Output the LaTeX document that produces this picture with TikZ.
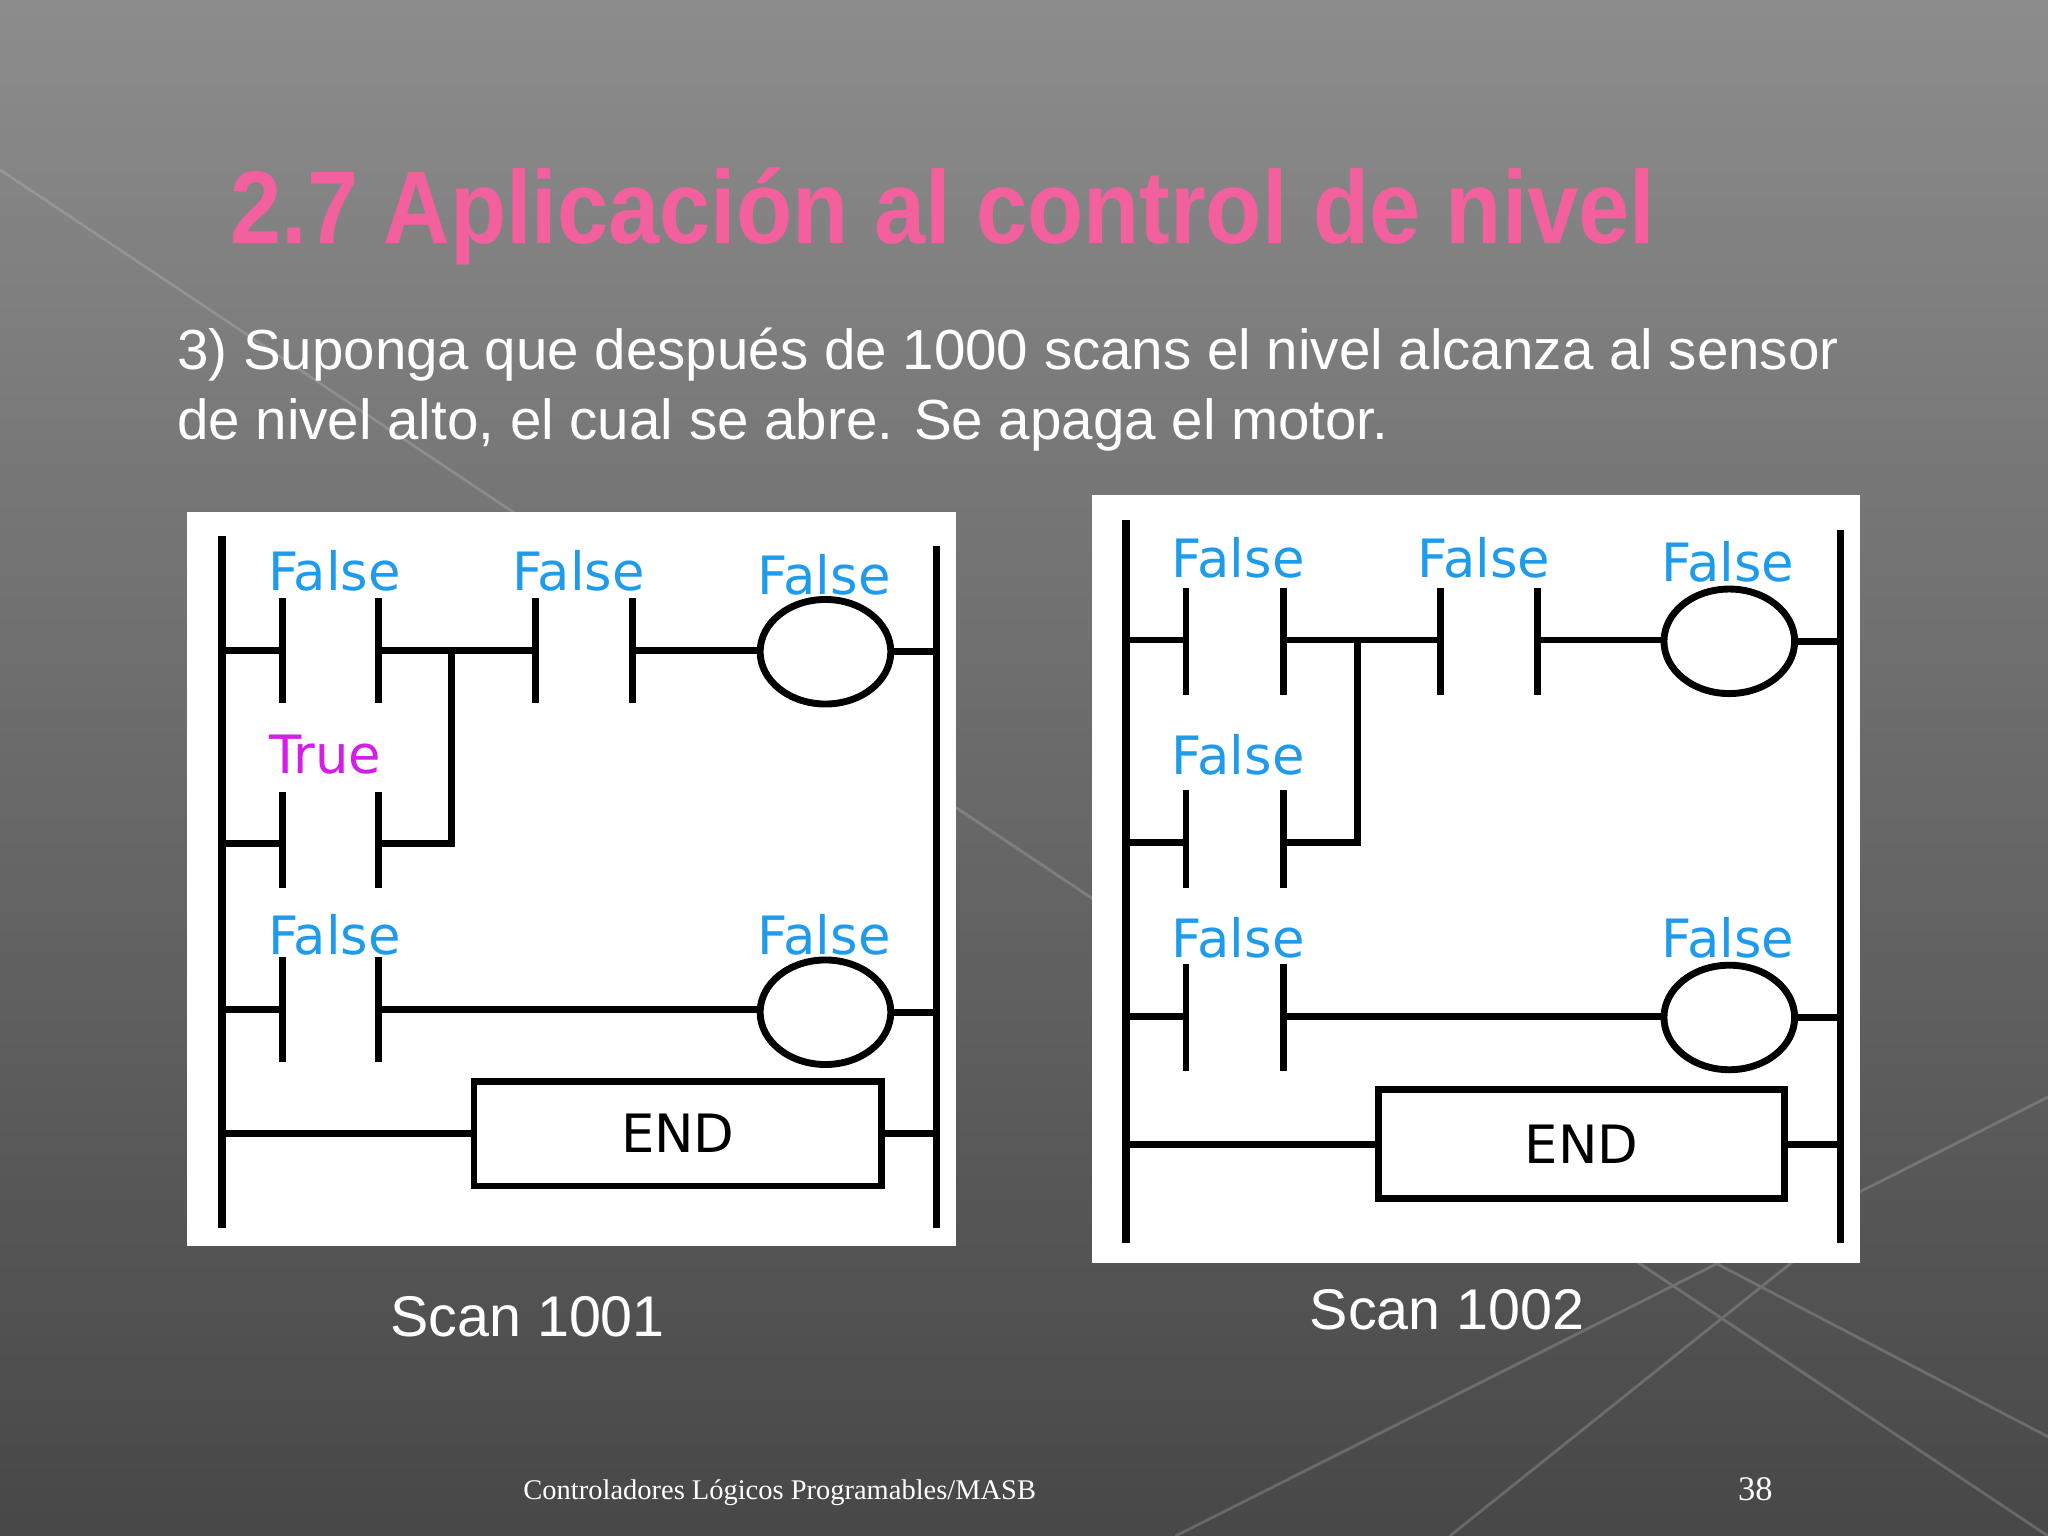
\documentclass[tikz,border=0pt]{standalone}
\usepackage{fontspec}
\usepackage{graphicx}
\usetikzlibrary{shapes.geometric}
\setmainfont{Liberation Sans}
\newfontfamily\serifft{Liberation Serif}
\newfontfamily\plcfont{DejaVu Sans}
\definecolor{plcblue}{HTML}{1E9BEA}
\definecolor{plcmag}{HTML}{D21EE6}
\definecolor{titlepink}{HTML}{F2609E}
\tikzset{
  rail/.style={line width=1.6pt},
  wire/.style={line width=1.5pt},
  coil/.style={draw,ellipse,line width=1.5pt,minimum width=1cm,minimum height=0.8cm,inner sep=0pt},
  lbl/.style={font=\plcfont\fontsize{11.5}{12}\selectfont,text=plcblue},
  endbox/.style={draw,line width=1.5pt,font=\plcfont\fontsize{11.5}{12}\selectfont}
}
\begin{document}
\begin{tikzpicture}[x=0.01cm,y=-0.01cm]
\useasboundingbox (0,0) rectangle (1568,1176);
\shade[top color=black!45,bottom color=black!72] (0,0) rectangle (1568,1176);
\draw[white!60!gray,opacity=0.25,line width=0.6pt] (0,130) -- (1568,1176) (900,1176) -- (1568,840) (1110,1176) -- (1380,960) (1300,960) -- (1568,1100);
% title
\node[anchor=center,inner sep=0pt] (title) at (722,166) {\resizebox{10.9cm}{0.58cm}{\bfseries\color{titlepink}2.7 Aplicación al control de nivel}};
\node[anchor=west,align=left,inner sep=0pt,font=\fontsize{12.3}{15.2}\selectfont,text=white] (body) at (135,298) {3) Suponga que después de 1000 scans el nivel alcanza al sensor\\de nivel alto, el cual se abre. Se apaga el motor.};
% Left panel
\fill[white] (143,392) rectangle (732,954);
\draw[rail] (170,410) -- (170,940);
\draw[rail] (717,418) -- (717,940);
\draw[wire] (170,498) -- (216,498) (216,458) -- (216,538) (290,458) -- (290,538) (290,498) -- (410,498) (410,458) -- (410,538) (484,458) -- (484,538) (484,498) -- (582,498);
\node[coil] (lc1) at (632,499) {};
\draw[wire] (lc1.east) -- (717,499);
\draw[wire] (346,498) -- (346,646) -- (290,646) (216,646) -- (170,646) (216,606) -- (216,680) (290,606) -- (290,680);
\draw[wire] (170,773) -- (216,773) (216,733) -- (216,813) (290,733) -- (290,813) (290,773) -- (582,773);
\node[coil] (lc2) at (632,775) {};
\draw[wire] (lc2.east) -- (717,775);
\node[endbox,minimum width=3.12cm,minimum height=0.8cm] (lend) at (519,868) {END};
\draw[wire] (170,868) -- (lend.west) (lend.east) -- (717,868);
\node[lbl] (l1) at (256,437) {False};
\node[lbl] (l2) at (443,437) {False};
\node[lbl] (l3) at (631,440) {False};
\node[lbl,text=plcmag] (l4) at (249,578) {True};
\node[lbl] (l5) at (256,716) {False};
\node[lbl] (l6) at (631,716) {False};
% Right panel
\fill[white] (836,379) rectangle (1424,967);
\draw[rail] (862,398) -- (862,952);
\draw[rail] (1409,406) -- (1409,952);
\draw[wire] (862,490) -- (908,490) (908,450) -- (908,532) (983,450) -- (983,532) (983,490) -- (1103,490) (1103,450) -- (1103,532) (1177,450) -- (1177,532) (1177,490) -- (1275,490);
\node[coil] (rc1) at (1324,491) {};
\draw[wire] (rc1.east) -- (1409,491);
\draw[wire] (1039,490) -- (1039,645) -- (983,645) (908,645) -- (862,645) (908,605) -- (908,680) (983,605) -- (983,680);
\draw[wire] (862,778) -- (908,778) (908,738) -- (908,820) (983,738) -- (983,820) (983,778) -- (1275,778);
\node[coil] (rc2) at (1324,779) {};
\draw[wire] (rc2.east) -- (1409,779);
\node[endbox,minimum width=3.11cm,minimum height=0.83cm] (rend) at (1211,876) {END};
\draw[wire] (862,876) -- (rend.west) (rend.east) -- (1409,876);
\node[lbl] (r1) at (948,427) {False};
\node[lbl] (r2) at (1136,427) {False};
\node[lbl] (r3) at (1323,430) {False};
\node[lbl] (r4) at (948,578) {False};
\node[lbl] (r5) at (948,718) {False};
\node[lbl] (r6) at (1323,718) {False};
% captions
\node[text=white,font=\fontsize{12.5}{13}\selectfont] (s1) at (404,1008) {Scan 1001};
\node[text=white,font=\fontsize{12.5}{13}\selectfont] (s2) at (1108,1003) {Scan 1002};
\node[text=white,font=\serifft\fontsize{6.2}{7}\selectfont] (foot) at (597,1143) {Controladores Lógicos Programables/MASB};
\node[text=white,font=\serifft\fontsize{7.5}{8}\selectfont] (pg) at (1344,1140) {38};
\end{tikzpicture}
\end{document}
